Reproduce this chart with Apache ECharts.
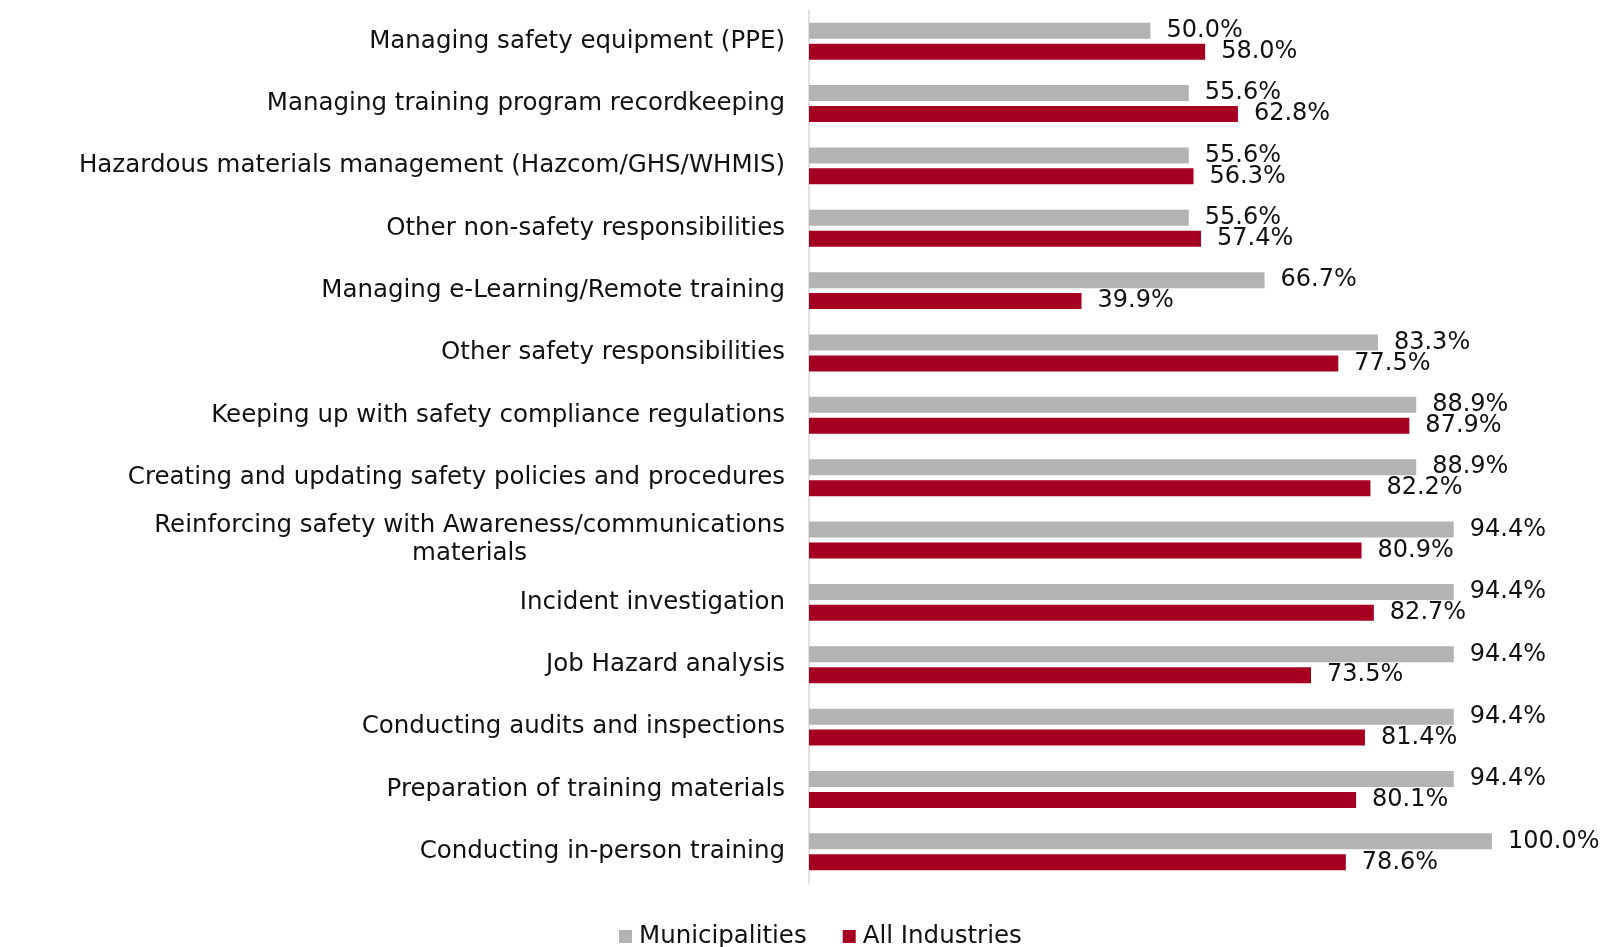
<!DOCTYPE html>
<html lang="en">
<head>
    <meta charset="UTF-8">
    <title>Safety responsibilities</title>
    <style>
        html, body { margin: 0; padding: 0; background: #fff; }
        #chart { width: 1606px; height: 947px; }
    </style>
</head>
<body>
<div id="chart"></div>
<script type="text/javascript" src="https://cdn.jsdelivr.net/npm/echarts@6/dist/echarts.min.js"></script>
<script type="text/javascript">
    var categories = [
        'Managing safety equipment (PPE)',
        'Managing training program recordkeeping',
        'Hazardous materials management (Hazcom/GHS/WHMIS)',
        'Other non-safety responsibilities',
        'Managing e-Learning/Remote training',
        'Other safety responsibilities',
        'Keeping up with safety compliance regulations',
        'Creating and updating safety policies and procedures',
        'Reinforcing safety with Awareness/communications\nmaterials',
        'Incident investigation',
        'Job Hazard analysis',
        'Conducting audits and inspections',
        'Preparation of training materials',
        'Conducting in-person training'
    ];
    var municipalities = [50.0, 55.6, 55.6, 55.6, 66.7, 83.3, 88.9, 88.9, 94.4, 94.4, 94.4, 94.4, 94.4, 100.0];
    var allIndustries = [58.0, 62.8, 56.3, 57.4, 39.9, 77.5, 87.9, 82.2, 80.9, 82.7, 73.5, 81.4, 80.1, 78.6];
    var seriesNames = ['Municipalities', 'All Industries'];

    var fontFamily = '"DejaVu Sans", sans-serif';
    var catFont = 24.5;
    var myChart = echarts.init(document.getElementById('chart'), null, {renderer: 'canvas'});

    var valueLabel = {
        show: true,
        position: 'right',
        distance: 16,
        color: '#111',
        fontSize: 24,
        fontFamily: fontFamily,
        formatter: function (p) { return p.value.toFixed(1) + '%'; }
    };

    var option = {
        animation: false,
        backgroundColor: '#fff',
        grid: {left: 809, right: 114, top: 10, bottom: 64, containLabel: false},
        legend: {
            bottom: -2,
            left: 619,
            padding: 0,
            itemWidth: 13,
            itemHeight: 13,
            itemGap: 36,
            icon: 'rect',
            textStyle: {color: '#111', fontSize: catFont, fontFamily: fontFamily, padding: [0, 0, 0, 2]},
            data: seriesNames
        },
        xAxis: {
            type: 'value',
            min: 0,
            max: 100,
            show: false
        },
        yAxis: {
            type: 'category',
            inverse: true,
            data: categories,
            axisLine: {show: true, lineStyle: {color: '#d9d9d9', width: 1.5}},
            axisTick: {show: false},
            axisLabel: {
                margin: 24,
                color: '#111',
                fontSize: catFont,
                fontFamily: fontFamily,
                lineHeight: 28,
                formatter: function (v) {
                    var parts = v.split('\n');
                    if (parts.length === 1) return v;
                    return '{a|' + parts[0] + '}\n{c|' + parts[1] + '}';
                },
                rich: {
                    a: {fontSize: catFont, fontFamily: fontFamily, color: '#111', lineHeight: 28},
                    c: {fontSize: catFont, fontFamily: fontFamily, color: '#111', lineHeight: 28, align: 'center'}
                }
            }
        },
        series: [
            {
                name: seriesNames[0],
                type: 'bar',
                data: municipalities,
                barWidth: 16,
                barGap: '31%',
                itemStyle: {color: '#b3b3b3'},
                label: valueLabel
            },
            {
                name: seriesNames[1],
                type: 'bar',
                data: allIndustries,
                barWidth: 16,
                itemStyle: {color: '#a50021'},
                label: valueLabel
            }
        ]
    };
    myChart.setOption(option);
</script>
</body>
</html>
